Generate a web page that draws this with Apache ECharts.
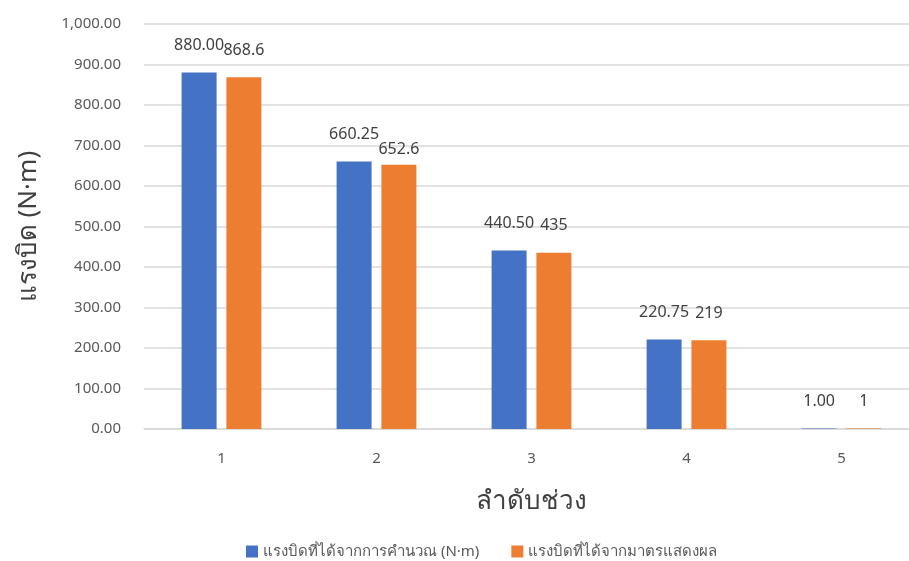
<!DOCTYPE html>
<html>
<head>
<meta charset="utf-8">
<script src="https://cdn.jsdelivr.net/npm/echarts@6/dist/echarts.min.js"></script>
<style>
  html, body { margin: 0; padding: 0; background: #fff; }
  #chart { width: 909px; height: 561px; }
</style>
</head>
<body>
<div id="chart"></div>
<script>
// Torque per range: computed vs. read from the display gauge
const categories = ['1', '2', '3', '4', '5'];
const computedTorque = [880.00, 660.25, 440.50, 220.75, 1.00];
const measuredTorque = [868.6, 652.6, 435, 219, 1];
const seriesNames = ['แรงบิดที่ได้จากการคำนวณ (N·m)', 'แรงบิดที่ได้จากมาตรแสดงผล'];
const yTicks = { min: 0, max: 1000, interval: 100 };

// vertical nudges for value labels (pixels, per bar)
const measuredLabelNudge = [0, 12, 0, 0, 0];

const FONT = '"Noto Sans", "Open Sans", sans-serif';
const chart = echarts.init(document.getElementById('chart'));

const labelBase = {
  show: true,
  position: 'top',
  distance: 19,
  color: '#404040',
  fontSize: 16,
  fontFamily: FONT
};

chart.setOption({
  animation: false,
  textStyle: { fontFamily: FONT },
  grid: {
    left: 144, top: 24, width: 775, height: 405,
    containLabel: false,
    outerBoundsMode: 'none'
  },
  legend: {
    left: 241,
    bottom: -3,
    itemWidth: 12,
    itemHeight: 12,
    itemGap: 32,
    icon: 'rect',
    textStyle: { color: '#595959', fontSize: 15, fontFamily: FONT },
    data: seriesNames
  },
  xAxis: {
    type: 'category',
    data: categories,
    name: 'ลำดับช่วง',
    nameLocation: 'middle',
    nameGap: 60,
    nameTextStyle: { color: '#404040', fontSize: 26, fontFamily: FONT },
    axisLine: { lineStyle: { color: '#d9d9d9', width: 1.5 } },
    axisTick: { show: false },
    axisLabel: { color: '#595959', fontSize: 15, margin: 22, fontFamily: FONT }
  },
  yAxis: {
    type: 'value',
    min: yTicks.min,
    max: yTicks.max,
    interval: yTicks.interval,
    name: 'แรงบิด (N·m)',
    nameLocation: 'middle',
    nameGap: 102,
    nameTextStyle: { color: '#404040', fontSize: 26, fontFamily: FONT },
    axisLine: { show: false },
    axisTick: { show: false },
    splitLine: { lineStyle: { color: '#d9d9d9', width: 1.5 } },
    axisLabel: {
      color: '#595959',
      fontSize: 15,
      margin: 23,
      fontFamily: FONT,
      formatter: v => v.toLocaleString('en-US', { minimumFractionDigits: 2, maximumFractionDigits: 2 })
    }
  },
  series: [
    {
      name: seriesNames[0],
      type: 'bar',
      data: computedTorque,
      barWidth: 35,
      barGap: '28%',
      itemStyle: { color: '#4472C4' },
      label: Object.assign({}, labelBase, { formatter: p => p.value.toFixed(2) })
    },
    {
      name: seriesNames[1],
      type: 'bar',
      data: measuredTorque.map((v, i) => ({
        value: v,
        label: { offset: [0, measuredLabelNudge[i]] }
      })),
      barWidth: 35,
      itemStyle: { color: '#ED7D31' },
      label: Object.assign({}, labelBase, { formatter: p => String(p.value) })
    }
  ]
});
</script>
</body>
</html>
